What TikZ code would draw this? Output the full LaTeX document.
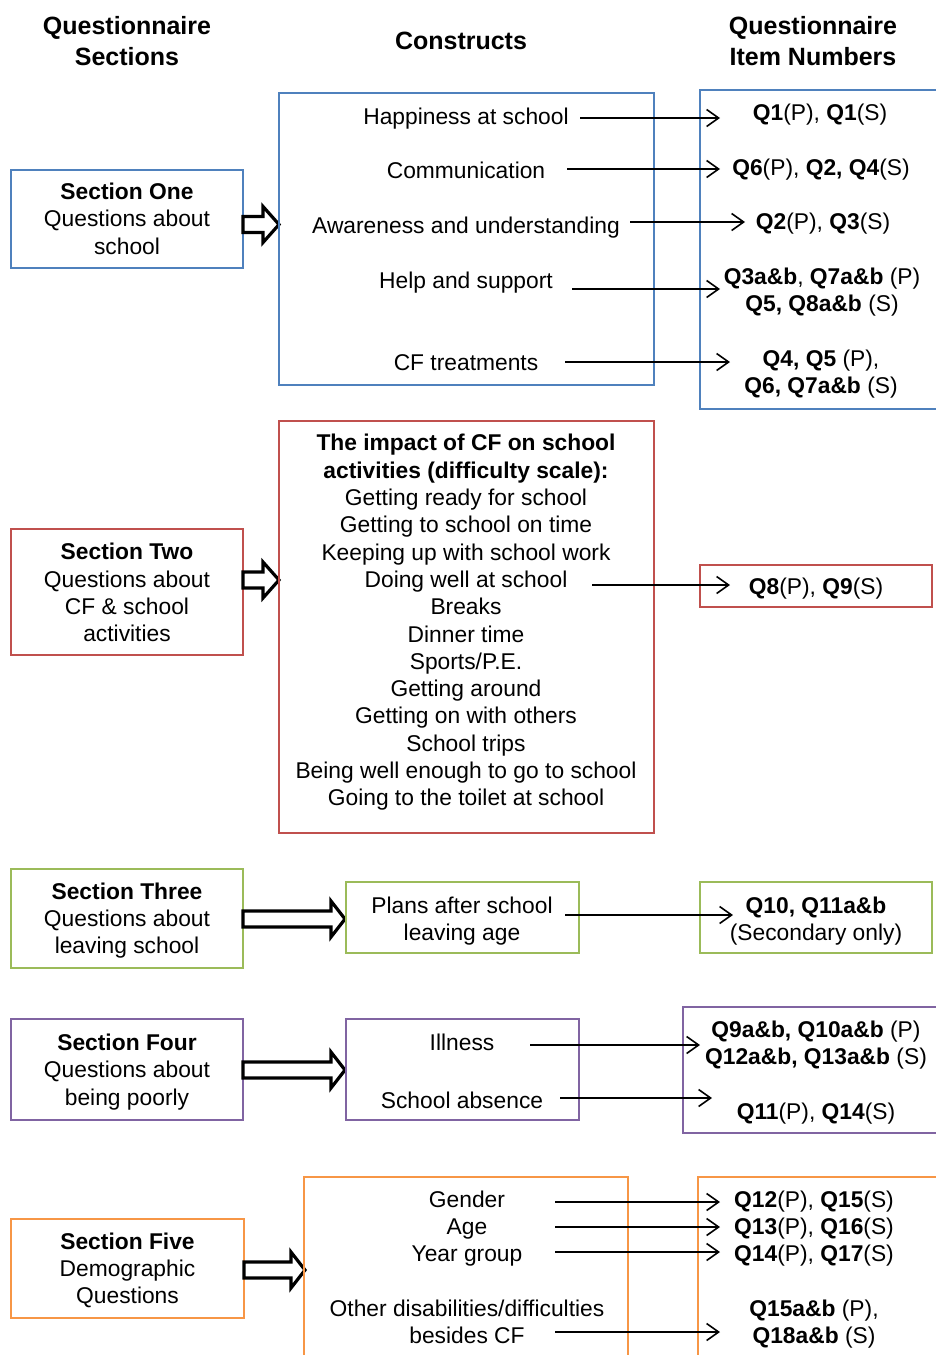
\documentclass[tikz,border=0pt]{standalone}
\usepackage{fontspec}
\setmainfont{Liberation Sans}
\usetikzlibrary{arrows.meta}
\definecolor{cblue}{HTML}{4F81BD}
\definecolor{cred}{HTML}{C0504D}
\definecolor{cgreen}{HTML}{9BBB59}
\definecolor{cpurple}{HTML}{8064A2}
\definecolor{corange}{HTML}{F79646}
\newcommand\blkarrow[4]{\draw[blk] (#1,#4-8) -- (#2,#4-8) -- (#2,#4-18) -- (#3,#4) -- (#2,#4+18) -- (#2,#4+8) -- (#1,#4+8) -- cycle;}
\begin{document}
\begin{tikzpicture}[x=1pt,y=-1pt,
  every node/.style={font=\fontsize{22.8}{27.3}\selectfont, inner sep=0pt, text=black},
  hdr/.style={font=\fontsize{25}{31}\selectfont\bfseries, align=center},
  box/.style={draw, line width=1.8pt, inner sep=0pt, align=center},
  lbl/.style={anchor=base, align=center},
  mlbl/.style={align=center},
  conn/.style={line width=1.6pt, -{Straight Barb[length=12pt,width=17pt]}},
  blk/.style={draw=black, line width=3.2pt, fill=white, line join=miter}
]
\fill[white] (0,0) rectangle (936,1355);
\useasboundingbox (0,0) rectangle (936,1355);
\clip (0,0) rectangle (936,1355);

% headers
\node[hdr] (h1) at (127,41.5) {Questionnaire\\Sections};
\node[hdr] (h2) at (461,41) {Constructs};
\node[hdr] (h3) at (813,41.5) {Questionnaire\\Item Numbers};

% ---------- Section One ----------
\node[box, draw=cblue, minimum width=232, minimum height=98] (s1) at (127,219) {};
\node[mlbl] (s1t) at (127,218.8) {\textbf{Section One}\\Questions about\\school};
\blkarrow{243}{263}{279}{224.5}
\node[box, draw=cblue, minimum width=375, minimum height=292] (c1) at (466.5,239) {};
\node[box, draw=cblue, minimum width=245, minimum height=319] (i1) at (822.5,249.5) {};
\node[lbl] (c11) at (466,124) {Happiness at school};
\node[lbl] (c12) at (466,178) {Communication};
\node[lbl] (c13) at (466,233) {Awareness and understanding};
\node[lbl] (c14) at (466,288) {Help and support};
\node[lbl] (c15) at (466,370) {CF treatments};
\node[lbl] (i11) at (820,120) {\textbf{Q1}(P), \textbf{Q1}(S)};
\node[lbl] (i12) at (821,175) {\textbf{Q6}(P), \textbf{Q2, Q4}(S)};
\node[lbl] (i13) at (823,229) {\textbf{Q2}(P), \textbf{Q3}(S)};
\node[mlbl] (i14) at (822,292) {\textbf{Q3a\&b}, \textbf{Q7a\&b} (P)\\\textbf{Q5, Q8a\&b} (S)};
\node[mlbl] (i15) at (821,374) {\textbf{Q4, Q5} (P),\\\textbf{Q6, Q7a\&b} (S)};
\coordinate (a1s) at (580,118); \coordinate (a1e) at (720,118);
\coordinate (a2s) at (567,169); \coordinate (a2e) at (720,169);
\coordinate (a3s) at (630,222); \coordinate (a3e) at (745,222);
\coordinate (a4s) at (572,289); \coordinate (a4e) at (720,289);
\coordinate (a5s) at (565,362); \coordinate (a5e) at (730,362);
\draw[conn] (a1s) -- (a1e);
\draw[conn] (a2s) -- (a2e);
\draw[conn] (a3s) -- (a3e);
\draw[conn] (a4s) -- (a4e);
\draw[conn] (a5s) -- (a5e);

% ---------- Section Two ----------
\node[box, draw=cred, minimum width=232, minimum height=126] (s2) at (127,592) {};
\node[mlbl] (s2t) at (127,592.7) {\textbf{Section Two}\\Questions about\\CF \& school\\activities};
\blkarrow{243}{263}{279}{580}
\node[box, draw=cred, minimum width=375, minimum height=412] (c2) at (466.5,627) {};
\node[mlbl] (c2t) at (466,622.5) {\textbf{The impact of CF on school}\\\textbf{activities (difficulty scale):}\\
  Getting ready for school\\Getting to school on time\\Keeping up with school work\\Doing well at school\\
  Breaks\\Dinner time\\Sports/P.E.\\Getting around\\Getting on with others\\School trips\\
  Being well enough to go to school\\Going to the toilet at school};
\node[box, draw=cred, minimum width=232, minimum height=42] (i2) at (816,586) {};
\node[lbl] (i2t) at (816,594) {\textbf{Q8}(P), \textbf{Q9}(S)};
\coordinate (b1s) at (592,585); \coordinate (b1e) at (730,585);
\draw[conn] (b1s) -- (b1e);

% ---------- Section Three ----------
\node[box, draw=cgreen, minimum width=232, minimum height=99] (s3) at (127,918.5) {};
\node[mlbl] (s3t) at (127,920.5) {\textbf{Section Three}\\Questions about\\leaving school};
\blkarrow{243}{331}{345}{919}
\node[box, draw=cgreen, minimum width=233, minimum height=71] (c3) at (462.5,917.5) {};
\node[mlbl] (c3t) at (462,921) {Plans after school\\leaving age};
\node[box, draw=cgreen, minimum width=232, minimum height=71] (i3) at (816,917.5) {};
\node[mlbl] (i3t) at (816,921) {\textbf{Q10, Q11a\&b}\\(Secondary only)};
\coordinate (d1s) at (565,915); \coordinate (d1e) at (733,915);
\draw[conn] (d1s) -- (d1e);

% ---------- Section Four ----------
\node[box, draw=cpurple, minimum width=232, minimum height=101] (s4) at (127,1069.5) {};
\node[mlbl] (s4t) at (127,1072) {\textbf{Section Four}\\Questions about\\being poorly};
\blkarrow{243}{331}{345}{1070}
\node[box, draw=cpurple, minimum width=233, minimum height=101] (c4) at (462.5,1069.5) {};
\node[box, draw=cpurple, minimum width=262, minimum height=126] (i4) at (814,1070) {};
\node[lbl] (c41) at (462,1050) {Illness};
\node[lbl] (c42) at (462,1108) {School absence};
\node[mlbl] (i41) at (816,1045) {\textbf{Q9a\&b, Q10a\&b} (P)\\\textbf{Q12a\&b, Q13a\&b} (S)};
\node[lbl] (i42) at (816,1119) {\textbf{Q11}(P), \textbf{Q14}(S)};
\coordinate (e1s) at (530,1045); \coordinate (e1e) at (700,1045);
\coordinate (e2s) at (560,1098); \coordinate (e2e) at (712,1098);
\draw[conn] (e1s) -- (e1e);
\draw[conn] (e2s) -- (e2e);

% ---------- Section Five ----------
\node[box, draw=corange, minimum width=233, minimum height=99] (s5) at (127.5,1268.5) {};
\node[mlbl] (s5t) at (127.5,1270.5) {\textbf{Section Five}\\Demographic\\Questions};
\blkarrow{244}{291}{305}{1270}
\node[box, draw=corange, minimum width=324, minimum height=198] (c5) at (466,1276) {};
\node[box, draw=corange, minimum width=247, minimum height=198] (i5) at (821.5,1276) {};
\node[lbl] (c51) at (467,1207) {Gender};
\node[lbl] (c52) at (467,1234) {Age};
\node[lbl] (c53) at (467,1261) {Year group};
\node[lbl] (c54) at (467,1316) {Other disabilities/difficulties};
\node[lbl] (c55) at (467,1343) {besides CF};
\node[lbl] (i51) at (814,1207) {\textbf{Q12}(P), \textbf{Q15}(S)};
\node[lbl] (i52) at (814,1234) {\textbf{Q13}(P), \textbf{Q16}(S)};
\node[lbl] (i53) at (814,1261) {\textbf{Q14}(P), \textbf{Q17}(S)};
\node[lbl] (i54) at (814,1316) {\textbf{Q15a\&b} (P),};
\node[lbl] (i55) at (814,1343) {\textbf{Q18a\&b} (S)};
\coordinate (f1s) at (555,1202); \coordinate (f1e) at (720,1202);
\coordinate (f2s) at (555,1227); \coordinate (f2e) at (720,1227);
\coordinate (f3s) at (555,1252); \coordinate (f3e) at (720,1252);
\coordinate (f4s) at (555,1332); \coordinate (f4e) at (720,1332);
\draw[conn] (f1s) -- (f1e);
\draw[conn] (f2s) -- (f2e);
\draw[conn] (f3s) -- (f3e);
\draw[conn] (f4s) -- (f4e);
\end{tikzpicture}
\end{document}
